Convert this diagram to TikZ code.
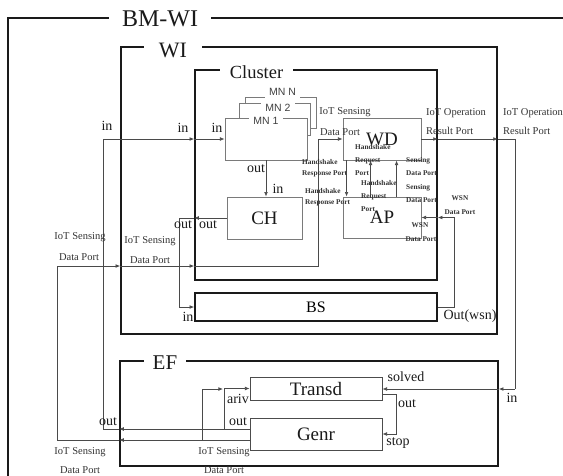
\documentclass[tikz,border=0pt]{standalone}
\usepackage{fontspec}
\setmainfont{Liberation Serif}
\newfontfamily\mnfont{Liberation Sans}
\usepackage{xcolor}
\usetikzlibrary{arrows.meta,calc}
\definecolor{Ink}{HTML}{1A1A1A}
\definecolor{Wire}{HTML}{4A4A4A}
\definecolor{Rim}{HTML}{7A7A7A}
\definecolor{Note}{HTML}{333333}
\tikzset{
  frame/.style={draw=Ink, line width=1.6pt, inner sep=0pt},
  frameTag/.style={fill=white, inner ysep=1pt, text=Ink},
  unit/.style={draw=Rim, line width=.9pt, fill=white, inner sep=0pt, text=Ink},
  mnTag/.style={fill=white, inner xsep=4pt, inner ysep=2pt, font=\mnfont\fontsize{10.5}{11}\selectfont, text=black!75},
  port/.style={inner sep=0pt, font=\fontsize{14}{15}\selectfont, text=Ink},
  portNote/.style={inner sep=0pt, font=\fontsize{10.5}{12}\selectfont, text=Note},
  tiny/.style={inner sep=0pt, anchor=west, font=\bfseries\fontsize{7.3}{8}\selectfont, text=Note},
  wire/.style={line width=.7pt, draw=Wire},
  arr/.style={wire, -{Latex[length=1.6mm,width=1.3mm]}}
}
\begin{document}
\begin{tikzpicture}[x=1pt,y=-1pt]
  \useasboundingbox (0,0) rectangle (563,475);
  \node[frame,minimum width=600pt,minimum height=500pt] (bmwi) at (308,268) {};
  \node[frame,minimum width=376pt,minimum height=287pt] (wi) at (309,190.5) {};
  \node[frame,minimum width=242pt,minimum height=210pt] (cluster) at (316,175) {};
  \node[frame,minimum width=378pt,minimum height=105pt] (ef) at (309,413.5) {};
  \node[frameTag,inner xsep=13pt,font=\fontsize{24}{24}\selectfont] (bmwiTag) at (160,19) {BM-WI};
  \node[frameTag,inner xsep=15pt,font=\fontsize{22}{22}\selectfont] (wiTag) at (173,50) {WI};
  \node[frameTag,inner xsep=10pt,font=\fontsize{18.5}{19}\selectfont] (clusterTag) at (256.5,72) {Cluster};
  \node[frameTag,inner xsep=9pt,font=\fontsize{21}{21}\selectfont] (efTag) at (165,363) {EF};

  \node[unit,minimum width=71pt,minimum height=31pt] (mnN) at (280.5,112.5) {};
  \node[mnTag] (mnNTag) at (282.5,92) {MN N};
  \node[unit,minimum width=71pt,minimum height=32pt] (mnTwo) at (274.5,119) {};
  \node[mnTag] (mnTwoTag) at (278,108) {MN 2};
  \node[unit,minimum width=82pt,minimum height=42pt] (mnOne) at (266,139) {};
  \node[mnTag] (mnOneTag) at (266,121) {MN 1};
  \node[unit,minimum width=78pt,minimum height=42pt,font=\fontsize{19}{19}\selectfont] (wd) at (382,139) {WD};
  \node[unit,minimum width=78pt,minimum height=41pt,font=\fontsize{19}{19}\selectfont] (ap) at (382,217.5) {AP};
  \node[unit,minimum width=75pt,minimum height=42pt,font=\fontsize{19}{19}\selectfont] (ch) at (264.5,218) {CH};
  \node[frame,minimum width=242pt,minimum height=28pt,font=\fontsize{16}{16}\selectfont,fill=white] (bs) at (316,307) {BS};
  \node[unit,draw=black!70,minimum width=132pt,minimum height=23pt,font=\fontsize{19}{19}\selectfont] (transd) at (316,388.5) {Transd};
  \node[unit,draw=black!70,minimum width=132pt,minimum height=32pt,font=\fontsize{19}{19}\selectfont] (genr) at (316,434) {Genr};

  \coordinate (opTurn) at (515,139);
  \coordinate (opDown) at (515,389);
  \coordinate (trOut) at (382,394);
  \coordinate (genrOut) at (250,429);
  \coordinate (inTurn) at (103,429);
  \coordinate (inTop) at (103,139);
  \coordinate (arivUp) at (224,429);
  \coordinate (genrSens) at (250,440);
  \coordinate (sensTurn) at (57,440);
  \coordinate (sensTop) at (57,266);
  \coordinate (sensRise) at (318,266);
  \coordinate (sensUp) at (202,440);
  \coordinate (arivJoin) at (223,389);
  \coordinate (chDrop) at (179,218);
  \coordinate (wsnRise) at (454,307);

  \draw[arr] (wd.east) -- (cluster.east |- wd.east);
  \draw[arr] (cluster.east |- wd.east) -- (wi.east |- wd.east);
  \draw[wire] (wi.east |- wd.east) -- (opTurn) -- (opDown);
  \draw[arr] (opDown) -- (ef.east |- opDown);
  \draw[arr] (ef.east |- opDown) -- (transd.east |- opDown);
  \draw[arr] (trOut) -- ++(14,0) |- (genr.east);
  \draw[arr] (genrOut) -- (ef.west |- genrOut);
  \draw[wire] (ef.west |- genrOut) -- (inTurn) -- (inTop) -- (wi.west |- inTop);
  \draw[arr] (wi.west |- inTop) -- (cluster.west |- inTop);
  \draw[arr] (cluster.west |- inTop) -- (mnOne.west);
  \draw[arr] (arivUp) |- (transd.west);
  \draw[arr] (genrSens) -- (ef.west |- genrSens);
  \draw[wire] (ef.west |- genrSens) -- (sensTurn) -- (sensTop);
  \draw[arr] (sensTop) -- (wi.west |- sensTop);
  \draw[arr] (wi.west |- sensTop) -- (cluster.west |- sensTop);
  \draw[arr] (cluster.west |- sensTop) -- (sensRise) |- (wd.west);
  \draw[arr] (sensUp) |- (arivJoin);
  \draw[arr] (mnOne.south) -- (mnOne.south |- ch.north);
  \draw[arr] (ch.west) -- (cluster.west |- ch.west);
  \draw[arr] (cluster.west |- ch.west) -- (chDrop) |- (bs.west);
  \draw[arr] (bs.east) -- (wsnRise) |- (cluster.east |- ap.east);
  \draw[arr] (cluster.east |- ap.east) -- (ap.east);
  \draw[arr] ($(wd.south west)+(4,0)$) -- ($(ap.north west)+(4,0)$);
  \draw[arr] ($(ap.north west)+(28,0)$) -- ($(wd.south west)+(28,0)$);
  \draw[arr] ($(ap.north west)+(54,0)$) -- ($(wd.south west)+(54,0)$);

  \node[port] (inWi) at (107,126) {in};
  \node[port] (inCluster) at (183,128) {in};
  \node[port] (inMn) at (217,128) {in};
  \node[port] (outMn) at (256,169) {out};
  \node[port] (inCh) at (278,189) {in};
  \node[port] (outCluster) at (183,225) {out};
  \node[port] (outCh) at (208,225) {out};
  \node[port] (inBs) at (188,317) {in};
  \node[port] (outWsn) at (470,316) {Out(wsn)};
  \node[port] (solved) at (406,377) {solved};
  \node[port] (inEf) at (512,398) {in};
  \node[port] (outTransd) at (407,404) {out};
  \node[port] (stop) at (398,443) {stop};
  \node[port] (ariv) at (238,399) {ariv};
  \node[port] (outGenr) at (238,422) {out};
  \node[port] (outEf) at (108,422) {out};

  \node[portNote] (sensA) at (80,237) {IoT Sensing};
  \node[portNote] (sensAPort) at (79,257) {Data Port};
  \node[portNote] (sensB) at (150,241) {IoT Sensing};
  \node[portNote] (sensBPort) at (150,260) {Data Port};
  \node[portNote] (sensC) at (345,112) {IoT Sensing};
  \node[portNote] (sensCPort) at (340,132) {Data Port};
  \node[portNote,anchor=west] (opA) at (426,113) {IoT Operation};
  \node[portNote,anchor=west] (opAPort) at (426,131) {Result Port};
  \node[portNote,anchor=west] (opB) at (503,113) {IoT Operation};
  \node[portNote,anchor=west] (opBPort) at (503,131) {Result Port};
  \node[portNote] (sensD) at (80,452) {IoT Sensing};
  \node[portNote] (sensDPort) at (80,470) {Data Port};
  \node[portNote] (sensE) at (224,452) {IoT Sensing};
  \node[portNote] (sensEPort) at (224,470) {Data Port};

  \node[tiny] (hsWd) at (355,147) {Handshake};
  \node[tiny] (rqWd) at (355,161) {Request};
  \node[tiny] (ptWd) at (355,173) {Port};
  \node[tiny] (hsAp) at (361,183) {Handshake};
  \node[tiny] (rqAp) at (361,197) {Request};
  \node[tiny] (ptAp) at (361,209) {Port};
  \node[tiny] (hsA) at (302,162) {Handshake};
  \node[tiny] (rsA) at (302,174) {Response Port};
  \node[tiny] (hsB) at (305,191) {Handshake};
  \node[tiny] (rsB) at (305,203) {Response Port};
  \node[tiny] (snA) at (406,161) {Sensing};
  \node[tiny] (snAPort) at (406,173) {Data Port};
  \node[tiny] (snB) at (406,188) {Sensing};
  \node[tiny] (snBPort) at (406,200) {Data Port};
  \node[tiny,anchor=center] (wsnA) at (460,198) {WSN};
  \node[tiny,anchor=center] (wsnAPort) at (460,212) {Data Port};
  \node[tiny,anchor=center] (wsnB) at (420,225) {WSN};
  \node[tiny,anchor=center] (wsnBPort) at (421,239) {Data Port};
\end{tikzpicture}
\end{document}
